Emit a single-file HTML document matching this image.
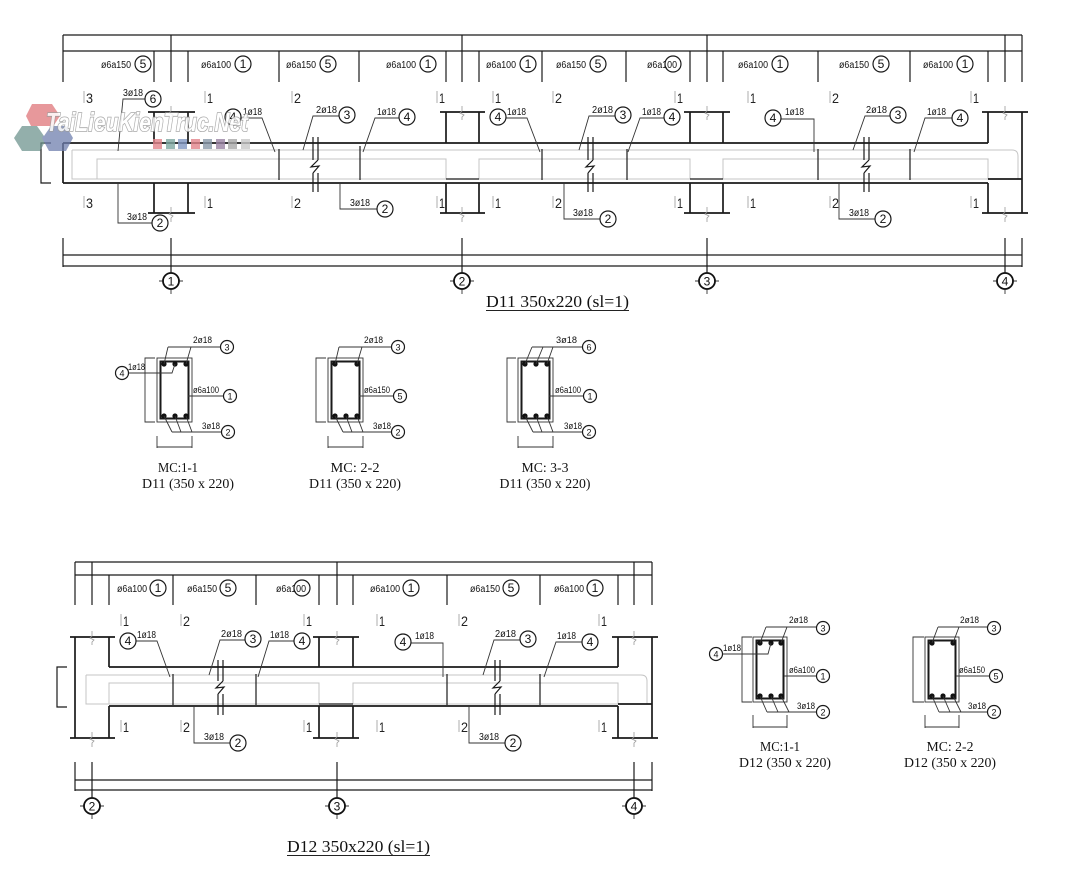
<!DOCTYPE html>
<html><head><meta charset="utf-8"><style>
html,body{margin:0;padding:0;background:#fff;}
svg{display:block;}
</style></head><body>
<svg width="1080" height="872" viewBox="0 0 1080 872" xmlns="http://www.w3.org/2000/svg">
<style>
.l{stroke:#1a1a1a;stroke-width:1.2;fill:none}
.b{stroke:#1a1a1a;stroke-width:1.7;fill:none}
.t{stroke:#333;stroke-width:0.9;fill:none}
.g{stroke:#c4c4c4;stroke-width:1;fill:none}
.k{stroke:#999;stroke-width:0.8;fill:none}
.s{font-family:"Liberation Sans",sans-serif;font-size:10px;fill:#111}
.ss{font-family:"Liberation Sans",sans-serif;font-size:9px;fill:#111}
.n{font-family:"Liberation Sans",sans-serif;font-size:12px;fill:#111;text-anchor:middle}
.nn{font-family:"Liberation Sans",sans-serif;font-size:9px;fill:#111;text-anchor:middle}
.c{fill:#fff;stroke:#1a1a1a;stroke-width:1.2}
.m{font-family:"Liberation Sans",sans-serif;font-size:14px;fill:#222}
.ax{fill:#fff;stroke:#111;stroke-width:1.8}
.an{font-family:"Liberation Sans",sans-serif;font-size:12px;fill:#111;text-anchor:middle}
.sf{font-family:"Liberation Serif",serif;fill:#111}
.bar{fill:#111}
</style>

<!-- ===================== D11 BEAM ===================== -->
<!-- top dims -->
<line class="l" x1="63" y1="35" x2="1022" y2="35"/>
<line class="l" x1="63" y1="51" x2="1022" y2="51"/>
<g class="l">
<line x1="63" y1="35" x2="63" y2="82"/><line x1="171" y1="35" x2="171" y2="82"/>
<line x1="462" y1="35" x2="462" y2="82"/><line x1="707" y1="35" x2="707" y2="82"/>
<line x1="1005" y1="35" x2="1005" y2="82"/><line x1="1022" y1="35" x2="1022" y2="82"/>
<line x1="154" y1="51" x2="154" y2="82"/><line x1="188" y1="51" x2="188" y2="82"/>
<line x1="279" y1="51" x2="279" y2="82"/><line x1="359" y1="51" x2="359" y2="82"/>
<line x1="446" y1="51" x2="446" y2="82"/><line x1="479" y1="51" x2="479" y2="82"/>
<line x1="542" y1="51" x2="542" y2="82"/><line x1="626" y1="51" x2="626" y2="82"/>
<line x1="690" y1="51" x2="690" y2="82"/><line x1="723" y1="51" x2="723" y2="82"/>
<line x1="818" y1="51" x2="818" y2="82"/><line x1="910" y1="51" x2="910" y2="82"/>
<line x1="988" y1="51" x2="988" y2="82"/>
</g>
<!-- stirrup labels -->
<g>
<text class="s" x="101" y="68" textLength="30" lengthAdjust="spacingAndGlyphs">ø6a150</text><circle class="c" cx="143" cy="64" r="8"/><text class="n" x="143" y="68">5</text>
<text class="s" x="201" y="68" textLength="30" lengthAdjust="spacingAndGlyphs">ø6a100</text><circle class="c" cx="243" cy="64" r="8"/><text class="n" x="243" y="68">1</text>
<text class="s" x="286" y="68" textLength="30" lengthAdjust="spacingAndGlyphs">ø6a150</text><circle class="c" cx="328" cy="64" r="8"/><text class="n" x="328" y="68">5</text>
<text class="s" x="386" y="68" textLength="30" lengthAdjust="spacingAndGlyphs">ø6a100</text><circle class="c" cx="428" cy="64" r="8"/><text class="n" x="428" y="68">1</text>
<text class="s" x="486" y="68" textLength="30" lengthAdjust="spacingAndGlyphs">ø6a100</text><circle class="c" cx="528" cy="64" r="8"/><text class="n" x="528" y="68">1</text>
<text class="s" x="556" y="68" textLength="30" lengthAdjust="spacingAndGlyphs">ø6a150</text><circle class="c" cx="598" cy="64" r="8"/><text class="n" x="598" y="68">5</text>
<text class="s" x="647" y="68" textLength="30" lengthAdjust="spacingAndGlyphs">ø6a100</text><circle cx="673" cy="64" r="8" fill="none" stroke="#1a1a1a" stroke-width="1.2"/>
<text class="s" x="738" y="68" textLength="30" lengthAdjust="spacingAndGlyphs">ø6a100</text><circle class="c" cx="780" cy="64" r="8"/><text class="n" x="780" y="68">1</text>
<text class="s" x="839" y="68" textLength="30" lengthAdjust="spacingAndGlyphs">ø6a150</text><circle class="c" cx="881" cy="64" r="8"/><text class="n" x="881" y="68">5</text>
<text class="s" x="923" y="68" textLength="30" lengthAdjust="spacingAndGlyphs">ø6a100</text><circle class="c" cx="965" cy="64" r="8"/><text class="n" x="965" y="68">1</text>
</g>
<!-- section markers top & bottom -->
<g>
<line class="k" x1="84" y1="91" x2="84" y2="103"/><text class="m" x="86" y="103" textLength="7" lengthAdjust="spacingAndGlyphs">3</text>
<line class="k" x1="205" y1="91" x2="205" y2="103"/><text class="m" x="207" y="103" textLength="6" lengthAdjust="spacingAndGlyphs">1</text>
<line class="k" x1="292" y1="91" x2="292" y2="103"/><text class="m" x="294" y="103" textLength="7" lengthAdjust="spacingAndGlyphs">2</text>
<line class="k" x1="437" y1="91" x2="437" y2="103"/><text class="m" x="439" y="103" textLength="6" lengthAdjust="spacingAndGlyphs">1</text>
<line class="k" x1="493" y1="91" x2="493" y2="103"/><text class="m" x="495" y="103" textLength="6" lengthAdjust="spacingAndGlyphs">1</text>
<line class="k" x1="553" y1="91" x2="553" y2="103"/><text class="m" x="555" y="103" textLength="7" lengthAdjust="spacingAndGlyphs">2</text>
<line class="k" x1="675" y1="91" x2="675" y2="103"/><text class="m" x="677" y="103" textLength="6" lengthAdjust="spacingAndGlyphs">1</text>
<line class="k" x1="748" y1="91" x2="748" y2="103"/><text class="m" x="750" y="103" textLength="6" lengthAdjust="spacingAndGlyphs">1</text>
<line class="k" x1="830" y1="91" x2="830" y2="103"/><text class="m" x="832" y="103" textLength="7" lengthAdjust="spacingAndGlyphs">2</text>
<line class="k" x1="971" y1="91" x2="971" y2="103"/><text class="m" x="973" y="103" textLength="6" lengthAdjust="spacingAndGlyphs">1</text>

<line class="k" x1="84" y1="196" x2="84" y2="208"/><text class="m" x="86" y="208" textLength="7" lengthAdjust="spacingAndGlyphs">3</text>
<line class="k" x1="205" y1="196" x2="205" y2="208"/><text class="m" x="207" y="208" textLength="6" lengthAdjust="spacingAndGlyphs">1</text>
<line class="k" x1="292" y1="196" x2="292" y2="208"/><text class="m" x="294" y="208" textLength="7" lengthAdjust="spacingAndGlyphs">2</text>
<line class="k" x1="437" y1="196" x2="437" y2="208"/><text class="m" x="439" y="208" textLength="6" lengthAdjust="spacingAndGlyphs">1</text>
<line class="k" x1="493" y1="196" x2="493" y2="208"/><text class="m" x="495" y="208" textLength="6" lengthAdjust="spacingAndGlyphs">1</text>
<line class="k" x1="553" y1="196" x2="553" y2="208"/><text class="m" x="555" y="208" textLength="7" lengthAdjust="spacingAndGlyphs">2</text>
<line class="k" x1="675" y1="196" x2="675" y2="208"/><text class="m" x="677" y="208" textLength="6" lengthAdjust="spacingAndGlyphs">1</text>
<line class="k" x1="748" y1="196" x2="748" y2="208"/><text class="m" x="750" y="208" textLength="6" lengthAdjust="spacingAndGlyphs">1</text>
<line class="k" x1="830" y1="196" x2="830" y2="208"/><text class="m" x="832" y="208" textLength="7" lengthAdjust="spacingAndGlyphs">2</text>
<line class="k" x1="971" y1="196" x2="971" y2="208"/><text class="m" x="973" y="208" textLength="6" lengthAdjust="spacingAndGlyphs">1</text>
</g>

<!-- gray rebar outlines -->
<path class="g" d="M72,150 H1012 Q1018,150 1018,156 V179 M72,150 V179 H1018"/>
<path class="g" d="M97,179 V159 H446 V179 M479,179 V159 H690 V179 M723,179 V159 H988 V179"/>

<!-- beam outline -->
<g class="b">
<line x1="63" y1="143" x2="988" y2="143"/>
<line x1="63" y1="183" x2="988" y2="183"/>
<line x1="63" y1="143" x2="63" y2="183"/>
<!-- column axis 1 -->
<path d="M154,143 V112 M188,143 V112 M148,112 H195 M154,183 V213 M188,183 V213 M148,213 H195"/>
<!-- column axis 2 -->
<path d="M446,143 V112 M479,143 V112 M440,112 H485 M446,183 V213 M479,183 V213 M440,213 H485"/>
<!-- column axis 3 -->
<path d="M690,143 V112 M723,143 V112 M684,112 H730 M690,183 V213 M723,183 V213 M684,213 H730"/>
<!-- right column -->
<path d="M988,143 V112 M982,112 H1028 M1022,112 V213 M988,183 V213 M982,213 H1028 M988,179 H1022"/>
</g>
<path class="l" d="M446,179 H479 M690,179 H723"/>
<!-- column break marks -->
<g class="k">
<path d="M171,106 V111 L169,113 L173,115 L171,117 V120"/>
<path d="M171,207 V212 L169,214 L173,216 L171,218 V222"/>
<path d="M462,106 V111 L460,113 L464,115 L462,117 V120"/>
<path d="M462,207 V212 L460,214 L464,216 L462,218 V222"/>
<path d="M707,106 V111 L705,113 L709,115 L707,117 V120"/>
<path d="M707,207 V212 L705,214 L709,216 L707,218 V222"/>
<path d="M1005,106 V111 L1003,113 L1007,115 L1005,117 V120"/>
<path d="M1005,207 V212 L1003,214 L1007,216 L1005,218 V222"/>
</g>
<!-- rebar cut lines -->
<g class="l">
<line x1="279" y1="149" x2="279" y2="180"/><line x1="360" y1="146" x2="360" y2="180"/>
<line x1="542" y1="149" x2="542" y2="180"/><line x1="627" y1="149" x2="627" y2="180"/>
<line x1="818" y1="149" x2="818" y2="180"/><line x1="910" y1="149" x2="910" y2="180"/>
</g>
<!-- break symbols -->
<g class="l">
<path d="M313,137 V160 M318,137 V160 M313,173 V192 M318,173 V192 M318,160 L311,167 L319,166 L313,173"/>
<path d="M588,137 V160 M593,137 V160 M588,173 V192 M593,173 V192 M593,160 L586,167 L594,166 L588,173"/>
<path d="M864,137 V160 M869,137 V160 M864,173 V192 M869,173 V192 M869,160 L862,167 L870,166 L864,173"/>
</g>
<!-- left bracket -->
<path class="l" d="M51,143 H41 V183 H51"/>

<!-- leaders D11 -->
<g class="t">
<polyline points="118,151 123,99 145,99"/>
<polyline points="241,118 262,118 275,152"/>
<polyline points="339,116 313,116 303,150"/>
<polyline points="118,183 118,223 152,223"/>
<polyline points="340,183 340,209 377,209"/>
<polyline points="399,118 375,118 363,152"/>
<polyline points="506,118 527,118 540,152"/>
<polyline points="615,116 589,116 579,150"/>
<polyline points="664,118 640,118 628,152"/>
<polyline points="564,183 564,219 600,219"/>
<polyline points="781,119 814,119 814,152"/>
<polyline points="890,116 865,116 853,150"/>
<polyline points="952,118 925,118 914,152"/>
<polyline points="839,183 839,219 875,219"/>
</g>
<g>
<text class="s" x="123" y="96" textLength="20" lengthAdjust="spacingAndGlyphs">3ø18</text><circle class="c" cx="153" cy="99" r="8"/><text class="n" x="153" y="103">6</text>
<circle class="c" cx="233" cy="117" r="8"/><text class="n" x="233" y="121">4</text><text class="s" x="243" y="115" textLength="19" lengthAdjust="spacingAndGlyphs">1ø18</text>
<text class="s" x="316" y="113" textLength="21" lengthAdjust="spacingAndGlyphs">2ø18</text><circle class="c" cx="347" cy="115" r="8"/><text class="n" x="347" y="119">3</text>
<text class="s" x="127" y="220" textLength="20" lengthAdjust="spacingAndGlyphs">3ø18</text><circle class="c" cx="160" cy="223" r="8"/><text class="n" x="160" y="227">2</text>
<text class="s" x="350" y="206" textLength="20" lengthAdjust="spacingAndGlyphs">3ø18</text><circle class="c" cx="385" cy="209" r="8"/><text class="n" x="385" y="213">2</text>
<text class="s" x="377" y="115" textLength="19" lengthAdjust="spacingAndGlyphs">1ø18</text><circle class="c" cx="407" cy="117" r="8"/><text class="n" x="407" y="121">4</text>
<circle class="c" cx="498" cy="117" r="8"/><text class="n" x="498" y="121">4</text><text class="s" x="507" y="115" textLength="19" lengthAdjust="spacingAndGlyphs">1ø18</text>
<text class="s" x="592" y="113" textLength="21" lengthAdjust="spacingAndGlyphs">2ø18</text><circle class="c" cx="623" cy="115" r="8"/><text class="n" x="623" y="119">3</text>
<text class="s" x="642" y="115" textLength="19" lengthAdjust="spacingAndGlyphs">1ø18</text><circle class="c" cx="672" cy="117" r="8"/><text class="n" x="672" y="121">4</text>
<text class="s" x="573" y="216" textLength="20" lengthAdjust="spacingAndGlyphs">3ø18</text><circle class="c" cx="608" cy="219" r="8"/><text class="n" x="608" y="223">2</text>
<circle class="c" cx="773" cy="118" r="8"/><text class="n" x="773" y="122">4</text><text class="s" x="785" y="115" textLength="19" lengthAdjust="spacingAndGlyphs">1ø18</text>
<text class="s" x="866" y="113" textLength="21" lengthAdjust="spacingAndGlyphs">2ø18</text><circle class="c" cx="898" cy="115" r="8"/><text class="n" x="898" y="119">3</text>
<text class="s" x="927" y="115" textLength="19" lengthAdjust="spacingAndGlyphs">1ø18</text><circle class="c" cx="960" cy="118" r="8"/><text class="n" x="960" y="122">4</text>
<text class="s" x="849" y="216" textLength="20" lengthAdjust="spacingAndGlyphs">3ø18</text><circle class="c" cx="883" cy="219" r="8"/><text class="n" x="883" y="223">2</text>
</g>

<!-- lower dims D11 -->
<g class="l">
<line x1="63" y1="255" x2="1022" y2="255"/>
<line x1="63" y1="266" x2="1022" y2="266"/>
<line x1="63" y1="238" x2="63" y2="267"/>
<line x1="1022" y1="238" x2="1022" y2="267"/>
<line x1="171" y1="238" x2="171" y2="273"/>
<line x1="462" y1="238" x2="462" y2="273"/>
<line x1="707" y1="238" x2="707" y2="273"/>
<line x1="1005" y1="238" x2="1005" y2="273"/>
</g>
<g class="t">
<path d="M159,281 H163 M179,281 H183 M171,289 V294"/>
<path d="M450,281 H454 M470,281 H474 M462,289 V294"/>
<path d="M695,281 H699 M715,281 H719 M707,289 V294"/>
<path d="M993,281 H997 M1013,281 H1017 M1005,289 V294"/>
</g>
<circle class="ax" cx="171" cy="281" r="8"/><text class="an" x="171" y="285.5">1</text>
<circle class="ax" cx="462" cy="281" r="8"/><text class="an" x="462" y="285.5">2</text>
<circle class="ax" cx="707" cy="281" r="8"/><text class="an" x="707" y="285.5">3</text>
<circle class="ax" cx="1005" cy="281" r="8"/><text class="an" x="1005" y="285.5">4</text>

<text class="sf" x="486" y="307" font-size="17" textLength="143" lengthAdjust="spacingAndGlyphs">D11 350x220 (sl=1)</text>
<line x1="486" y1="310.5" x2="629" y2="310.5" stroke="#222" stroke-width="1"/>

<!-- ===================== D11 SECTIONS ===================== -->
<!-- MC 1-1 -->
<g>
<rect class="t" x="157" y="358" width="35" height="64"/>
<rect x="160.5" y="361.5" width="28" height="57" fill="none" stroke="#1a1a1a" stroke-width="2"/>
<circle class="bar" cx="164" cy="364" r="2.6"/><circle class="bar" cx="175" cy="364" r="2.6"/><circle class="bar" cx="186" cy="364" r="2.6"/>
<circle class="bar" cx="164" cy="416" r="2.6"/><circle class="bar" cx="175" cy="416" r="2.6"/><circle class="bar" cx="186" cy="416" r="2.6"/>
<path class="t" d="M155,358 H145 V422 H155 M157,436 V448 M192,436 V448 M157,447 H192"/>
<path class="t" d="M164,364 L168,347 M186,364 L191,347 M168,347 H220"/>
<text class="ss" x="193" y="343" textLength="19" lengthAdjust="spacingAndGlyphs">2ø18</text>
<circle class="c" cx="227" cy="347" r="6.5"/><text class="nn" x="227" y="350.5">3</text>
<path class="t" d="M128,373 H172 L175,364"/>
<circle class="c" cx="122" cy="373" r="6.5"/><text class="nn" x="122" y="376.5">4</text>
<text class="ss" x="128" y="370" textLength="17" lengthAdjust="spacingAndGlyphs">1ø18</text>
<path class="t" d="M188,396 H223"/>
<text class="ss" x="193" y="393" textLength="26" lengthAdjust="spacingAndGlyphs">ø6a100</text>
<circle class="c" cx="230" cy="396" r="6.5"/><text class="nn" x="230" y="399.5">1</text>
<path class="t" d="M164,416 L172,432 M175,416 L181,432 M186,416 L192,432 M172,432 H222"/>
<text class="ss" x="202" y="429" textLength="18" lengthAdjust="spacingAndGlyphs">3ø18</text>
<circle class="c" cx="228" cy="432" r="6.5"/><text class="nn" x="228" y="435.5">2</text>
<text class="sf" x="178" y="472" font-size="14" text-anchor="middle" textLength="40" lengthAdjust="spacingAndGlyphs">MC:1-1</text>
<text class="sf" x="188" y="488" font-size="14" text-anchor="middle" textLength="92" lengthAdjust="spacingAndGlyphs">D11 (350 x 220)</text>
</g>
<!-- MC 2-2 -->
<g>
<rect class="t" x="328" y="358" width="35" height="64"/>
<rect x="331.5" y="361.5" width="28" height="57" fill="none" stroke="#1a1a1a" stroke-width="2"/>
<circle class="bar" cx="335" cy="364" r="2.6"/><circle class="bar" cx="357" cy="364" r="2.6"/>
<circle class="bar" cx="335" cy="416" r="2.6"/><circle class="bar" cx="346" cy="416" r="2.6"/><circle class="bar" cx="357" cy="416" r="2.6"/>
<path class="t" d="M326,358 H316 V422 H326 M328,436 V448 M363,436 V448 M328,447 H363"/>
<path class="t" d="M335,364 L339,347 M357,364 L362,347 M339,347 H391"/>
<text class="ss" x="364" y="343" textLength="19" lengthAdjust="spacingAndGlyphs">2ø18</text>
<circle class="c" cx="398" cy="347" r="6.5"/><text class="nn" x="398" y="350.5">3</text>
<path class="t" d="M359,396 H393"/>
<text class="ss" x="364" y="393" textLength="26" lengthAdjust="spacingAndGlyphs">ø6a150</text>
<circle class="c" cx="400" cy="396" r="6.5"/><text class="nn" x="400" y="399.5">5</text>
<path class="t" d="M335,416 L343,432 M346,416 L352,432 M357,416 L363,432 M343,432 H392"/>
<text class="ss" x="373" y="429" textLength="18" lengthAdjust="spacingAndGlyphs">3ø18</text>
<circle class="c" cx="398" cy="432" r="6.5"/><text class="nn" x="398" y="435.5">2</text>
<text class="sf" x="355" y="472" font-size="14" text-anchor="middle" textLength="49" lengthAdjust="spacingAndGlyphs">MC: 2-2</text>
<text class="sf" x="355" y="488" font-size="14" text-anchor="middle" textLength="92" lengthAdjust="spacingAndGlyphs">D11 (350 x 220)</text>
</g>
<!-- MC 3-3 -->
<g>
<rect class="t" x="518" y="358" width="35" height="64"/>
<rect x="521.5" y="361.5" width="28" height="57" fill="none" stroke="#1a1a1a" stroke-width="2"/>
<circle class="bar" cx="525" cy="364" r="2.6"/><circle class="bar" cx="536" cy="364" r="2.6"/><circle class="bar" cx="547" cy="364" r="2.6"/>
<circle class="bar" cx="525" cy="416" r="2.6"/><circle class="bar" cx="536" cy="416" r="2.6"/><circle class="bar" cx="547" cy="416" r="2.6"/>
<path class="t" d="M516,358 H507 V422 H516 M518,436 V448 M553,436 V448 M518,447 H553"/>
<path class="t" d="M525,364 L532,347 M536,364 L543,347 M547,364 L553,347 M532,347 H583"/>
<text class="ss" x="556" y="343" textLength="21" lengthAdjust="spacingAndGlyphs">3ø18</text>
<circle class="c" cx="589" cy="347" r="6.5"/><text class="nn" x="589" y="350.5">6</text>
<path class="t" d="M549,396 H584"/>
<text class="ss" x="555" y="393" textLength="26" lengthAdjust="spacingAndGlyphs">ø6a100</text>
<circle class="c" cx="590" cy="396" r="6.5"/><text class="nn" x="590" y="399.5">1</text>
<path class="t" d="M525,416 L533,432 M536,416 L542,432 M547,416 L553,432 M533,432 H583"/>
<text class="ss" x="564" y="429" textLength="18" lengthAdjust="spacingAndGlyphs">3ø18</text>
<circle class="c" cx="589" cy="432" r="6.5"/><text class="nn" x="589" y="435.5">2</text>
<text class="sf" x="545" y="472" font-size="14" text-anchor="middle" textLength="47" lengthAdjust="spacingAndGlyphs">MC: 3-3</text>
<text class="sf" x="545" y="488" font-size="14" text-anchor="middle" textLength="91" lengthAdjust="spacingAndGlyphs">D11 (350 x 220)</text>
</g>

<!-- ===================== D12 BEAM ===================== -->
<g class="l">
<line x1="75" y1="562" x2="652" y2="562"/>
<line x1="75" y1="575" x2="652" y2="575"/>
<line x1="75" y1="562" x2="75" y2="605"/><line x1="92" y1="562" x2="92" y2="605"/>
<line x1="337" y1="562" x2="337" y2="605"/><line x1="634" y1="562" x2="634" y2="605"/>
<line x1="652" y1="562" x2="652" y2="605"/>
<line x1="109" y1="575" x2="109" y2="605"/><line x1="173" y1="575" x2="173" y2="605"/>
<line x1="256" y1="575" x2="256" y2="605"/><line x1="319" y1="575" x2="319" y2="605"/>
<line x1="353" y1="575" x2="353" y2="605"/><line x1="447" y1="575" x2="447" y2="605"/>
<line x1="540" y1="575" x2="540" y2="605"/><line x1="618" y1="575" x2="618" y2="605"/>
</g>
<g>
<text class="s" x="117" y="592" textLength="30" lengthAdjust="spacingAndGlyphs">ø6a100</text><circle class="c" cx="158" cy="588" r="8"/><text class="n" x="158" y="592">1</text>
<text class="s" x="187" y="592" textLength="30" lengthAdjust="spacingAndGlyphs">ø6a150</text><circle class="c" cx="228" cy="588" r="8"/><text class="n" x="228" y="592">5</text>
<text class="s" x="276" y="592" textLength="30" lengthAdjust="spacingAndGlyphs">ø6a100</text><circle cx="302" cy="588" r="8" fill="none" stroke="#1a1a1a" stroke-width="1.2"/>
<text class="s" x="370" y="592" textLength="30" lengthAdjust="spacingAndGlyphs">ø6a100</text><circle class="c" cx="411" cy="588" r="8"/><text class="n" x="411" y="592">1</text>
<text class="s" x="470" y="592" textLength="30" lengthAdjust="spacingAndGlyphs">ø6a150</text><circle class="c" cx="511" cy="588" r="8"/><text class="n" x="511" y="592">5</text>
<text class="s" x="554" y="592" textLength="30" lengthAdjust="spacingAndGlyphs">ø6a100</text><circle class="c" cx="595" cy="588" r="8"/><text class="n" x="595" y="592">1</text>
</g>
<g>
<line class="k" x1="121" y1="614" x2="121" y2="626"/><text class="m" x="123" y="626" textLength="6" lengthAdjust="spacingAndGlyphs">1</text>
<line class="k" x1="181" y1="614" x2="181" y2="626"/><text class="m" x="183" y="626" textLength="7" lengthAdjust="spacingAndGlyphs">2</text>
<line class="k" x1="304" y1="614" x2="304" y2="626"/><text class="m" x="306" y="626" textLength="6" lengthAdjust="spacingAndGlyphs">1</text>
<line class="k" x1="377" y1="614" x2="377" y2="626"/><text class="m" x="379" y="626" textLength="6" lengthAdjust="spacingAndGlyphs">1</text>
<line class="k" x1="459" y1="614" x2="459" y2="626"/><text class="m" x="461" y="626" textLength="7" lengthAdjust="spacingAndGlyphs">2</text>
<line class="k" x1="599" y1="614" x2="599" y2="626"/><text class="m" x="601" y="626" textLength="6" lengthAdjust="spacingAndGlyphs">1</text>

<line class="k" x1="121" y1="720" x2="121" y2="732"/><text class="m" x="123" y="732" textLength="6" lengthAdjust="spacingAndGlyphs">1</text>
<line class="k" x1="181" y1="720" x2="181" y2="732"/><text class="m" x="183" y="732" textLength="7" lengthAdjust="spacingAndGlyphs">2</text>
<line class="k" x1="304" y1="720" x2="304" y2="732"/><text class="m" x="306" y="732" textLength="6" lengthAdjust="spacingAndGlyphs">1</text>
<line class="k" x1="377" y1="720" x2="377" y2="732"/><text class="m" x="379" y="732" textLength="6" lengthAdjust="spacingAndGlyphs">1</text>
<line class="k" x1="459" y1="720" x2="459" y2="732"/><text class="m" x="461" y="732" textLength="7" lengthAdjust="spacingAndGlyphs">2</text>
<line class="k" x1="599" y1="720" x2="599" y2="732"/><text class="m" x="601" y="732" textLength="6" lengthAdjust="spacingAndGlyphs">1</text>
</g>

<path class="g" d="M86,675 H641 Q647,675 647,681 V704 M86,675 V704 H647"/>
<path class="g" d="M109,704 V683 H319 V704 M353,704 V683 H618 V704"/>

<g class="b">
<line x1="109" y1="667" x2="618" y2="667"/>
<line x1="109" y1="706" x2="618" y2="706"/>
<path d="M70,637 H115 M75,637 V738 M109,637 V667 M109,706 V738 M70,738 H115"/>
<path d="M319,667 V637 M353,667 V637 M313,637 H359 M319,706 V738 M353,706 V738 M313,738 H359"/>
<path d="M618,667 V637 M612,637 H658 M652,637 V738 M618,706 V738 M612,738 H658 M618,704 H652"/>
</g>
<path class="l" d="M319,704 H353"/>
<g class="k">
<path d="M92,631 V636 L90,638 L94,640 L92,642 V645"/>
<path d="M92,732 V737 L90,739 L94,741 L92,743 V747"/>
<path d="M337,631 V636 L335,638 L339,640 L337,642 V645"/>
<path d="M337,732 V737 L335,739 L339,741 L337,743 V747"/>
<path d="M634,631 V636 L632,638 L636,640 L634,642 V645"/>
<path d="M634,732 V737 L632,739 L636,741 L634,743 V747"/>
</g>
<g class="l">
<line x1="173" y1="674" x2="173" y2="705"/><line x1="256" y1="674" x2="256" y2="705"/>
<line x1="447" y1="674" x2="447" y2="705"/><line x1="540" y1="674" x2="540" y2="705"/>
</g>
<g class="l">
<path d="M218,660 V681 M223,660 V681 M218,694 V715 M223,694 V715 M223,681 L216,688 L224,687 L218,694"/>
<path d="M495,660 V681 M500,660 V681 M495,694 V715 M500,694 V715 M500,681 L493,688 L501,687 L495,694"/>
</g>
<path class="l" d="M67,667 H57 V707 H67"/>

<g class="t">
<polyline points="136,641 157,641 170,677"/>
<polyline points="245,640 220,640 209,675"/>
<polyline points="294,641 269,641 258,677"/>
<polyline points="194,706 194,743 230,743"/>
<polyline points="411,643 443,643 443,677"/>
<polyline points="520,640 494,640 483,675"/>
<polyline points="582,642 556,642 544,677"/>
<polyline points="469,706 469,743 505,743"/>
</g>
<g>
<circle class="c" cx="128" cy="641" r="8"/><text class="n" x="128" y="645">4</text><text class="s" x="137" y="638" textLength="19" lengthAdjust="spacingAndGlyphs">1ø18</text>
<text class="s" x="221" y="637" textLength="21" lengthAdjust="spacingAndGlyphs">2ø18</text><circle class="c" cx="253" cy="639" r="8"/><text class="n" x="253" y="643">3</text>
<text class="s" x="270" y="638" textLength="19" lengthAdjust="spacingAndGlyphs">1ø18</text><circle class="c" cx="302" cy="641" r="8"/><text class="n" x="302" y="645">4</text>
<text class="s" x="204" y="740" textLength="20" lengthAdjust="spacingAndGlyphs">3ø18</text><circle class="c" cx="238" cy="743" r="8"/><text class="n" x="238" y="747">2</text>
<circle class="c" cx="403" cy="642" r="8"/><text class="n" x="403" y="646">4</text><text class="s" x="415" y="639" textLength="19" lengthAdjust="spacingAndGlyphs">1ø18</text>
<text class="s" x="495" y="637" textLength="21" lengthAdjust="spacingAndGlyphs">2ø18</text><circle class="c" cx="528" cy="639" r="8"/><text class="n" x="528" y="643">3</text>
<text class="s" x="557" y="639" textLength="19" lengthAdjust="spacingAndGlyphs">1ø18</text><circle class="c" cx="590" cy="642" r="8"/><text class="n" x="590" y="646">4</text>
<text class="s" x="479" y="740" textLength="20" lengthAdjust="spacingAndGlyphs">3ø18</text><circle class="c" cx="513" cy="743" r="8"/><text class="n" x="513" y="747">2</text>
</g>

<g class="l">
<line x1="75" y1="780" x2="652" y2="780"/>
<line x1="75" y1="790" x2="652" y2="790"/>
<line x1="75" y1="762" x2="75" y2="791"/><line x1="652" y1="762" x2="652" y2="791"/>
<line x1="92" y1="762" x2="92" y2="798"/><line x1="337" y1="762" x2="337" y2="798"/>
<line x1="634" y1="762" x2="634" y2="798"/>
</g>
<g class="t">
<path d="M80,806 H84 M100,806 H104 M92,814 V819"/>
<path d="M325,806 H329 M345,806 H349 M337,814 V819"/>
<path d="M622,806 H626 M642,806 H646 M634,814 V819"/>
</g>
<circle class="ax" cx="92" cy="806" r="8"/><text class="an" x="92" y="810.5">2</text>
<circle class="ax" cx="337" cy="806" r="8"/><text class="an" x="337" y="810.5">3</text>
<circle class="ax" cx="634" cy="806" r="8"/><text class="an" x="634" y="810.5">4</text>

<text class="sf" x="287" y="852" font-size="17" textLength="143" lengthAdjust="spacingAndGlyphs">D12 350x220 (sl=1)</text>
<line x1="287" y1="855.5" x2="430" y2="855.5" stroke="#222" stroke-width="1"/>

<!-- ===================== D12 SECTIONS ===================== -->
<g>
<rect class="t" x="753" y="637" width="34" height="65"/>
<rect x="756.5" y="640.5" width="27" height="58" fill="none" stroke="#1a1a1a" stroke-width="2"/>
<circle class="bar" cx="760" cy="643" r="2.6"/><circle class="bar" cx="771" cy="643" r="2.6"/><circle class="bar" cx="781" cy="643" r="2.6"/>
<circle class="bar" cx="760" cy="696" r="2.6"/><circle class="bar" cx="771" cy="696" r="2.6"/><circle class="bar" cx="781" cy="696" r="2.6"/>
<path class="t" d="M752,637 H742 V702 H752 M753,715 V728 M787,715 V728 M753,727 H787"/>
<path class="t" d="M760,643 L766,627 M781,643 L787,627 M766,627 H816"/>
<text class="ss" x="789" y="623" textLength="19" lengthAdjust="spacingAndGlyphs">2ø18</text>
<circle class="c" cx="823" cy="628" r="6.5"/><text class="nn" x="823" y="631.5">3</text>
<path class="t" d="M722,654 H768 L771,643"/>
<circle class="c" cx="716" cy="654" r="6.5"/><text class="nn" x="716" y="657.5">4</text>
<text class="ss" x="723" y="651" textLength="18" lengthAdjust="spacingAndGlyphs">1ø18</text>
<path class="t" d="M784,676 H816"/>
<text class="ss" x="789" y="673" textLength="26" lengthAdjust="spacingAndGlyphs">ø6a100</text>
<circle class="c" cx="823" cy="676" r="6.5"/><text class="nn" x="823" y="679.5">1</text>
<path class="t" d="M760,696 L767,712 M771,696 L778,712 M781,696 L789,712 M767,712 H816"/>
<text class="ss" x="797" y="709" textLength="18" lengthAdjust="spacingAndGlyphs">3ø18</text>
<circle class="c" cx="823" cy="712" r="6.5"/><text class="nn" x="823" y="715.5">2</text>
<text class="sf" x="780" y="751" font-size="14" text-anchor="middle" textLength="40" lengthAdjust="spacingAndGlyphs">MC:1-1</text>
<text class="sf" x="785" y="767" font-size="14" text-anchor="middle" textLength="92" lengthAdjust="spacingAndGlyphs">D12 (350 x 220)</text>
</g>
<g>
<rect class="t" x="925" y="637" width="34" height="65"/>
<rect x="928.5" y="640.5" width="27" height="58" fill="none" stroke="#1a1a1a" stroke-width="2"/>
<circle class="bar" cx="932" cy="643" r="2.6"/><circle class="bar" cx="953" cy="643" r="2.6"/>
<circle class="bar" cx="932" cy="696" r="2.6"/><circle class="bar" cx="943" cy="696" r="2.6"/><circle class="bar" cx="953" cy="696" r="2.6"/>
<path class="t" d="M924,637 H913 V702 H924 M925,715 V728 M959,715 V728 M925,727 H959"/>
<path class="t" d="M932,643 L938,627 M953,643 L959,627 M938,627 H987"/>
<text class="ss" x="960" y="623" textLength="19" lengthAdjust="spacingAndGlyphs">2ø18</text>
<circle class="c" cx="994" cy="628" r="6.5"/><text class="nn" x="994" y="631.5">3</text>
<path class="t" d="M956,676 H989"/>
<text class="ss" x="959" y="673" textLength="26" lengthAdjust="spacingAndGlyphs">ø6a150</text>
<circle class="c" cx="996" cy="676" r="6.5"/><text class="nn" x="996" y="679.5">5</text>
<path class="t" d="M932,696 L939,712 M943,696 L950,712 M953,696 L961,712 M939,712 H987"/>
<text class="ss" x="968" y="709" textLength="18" lengthAdjust="spacingAndGlyphs">3ø18</text>
<circle class="c" cx="994" cy="712" r="6.5"/><text class="nn" x="994" y="715.5">2</text>
<text class="sf" x="950" y="751" font-size="14" text-anchor="middle" textLength="47" lengthAdjust="spacingAndGlyphs">MC: 2-2</text>
<text class="sf" x="950" y="767" font-size="14" text-anchor="middle" textLength="92" lengthAdjust="spacingAndGlyphs">D12 (350 x 220)</text>
</g>

<!-- ===================== WATERMARK ===================== -->
<g opacity="0.75">
<polygon points="32,104 52,104 60,116 52,128 32,128 26,116" fill="#e0767a"/>
<polygon points="22,126 40,126 47,138 40,151 22,151 14,138" fill="#6f958f"/>
<polygon points="49,126 66,126 73,138 66,151 49,151 42,138" fill="#6f7fae"/>
<polygon points="37,126 51,126 44,136" fill="#ffffff"/>
</g>
<text x="46" y="131" font-family="Liberation Sans, sans-serif" font-size="26" font-weight="bold" font-style="italic" fill="#ffffff" stroke="#9a9a9a" stroke-width="1.6" paint-order="stroke" opacity="0.85" textLength="202" lengthAdjust="spacingAndGlyphs">TaiLieuKienTruc.Net</text>
<g opacity="0.8">
<rect x="153" y="139" width="9" height="10" fill="#e3848b"/>
<rect x="166" y="139" width="9" height="10" fill="#7fa8a2"/>
<rect x="178" y="139" width="9" height="10" fill="#8198c2"/>
<rect x="191" y="139" width="9" height="10" fill="#e3848b"/>
<rect x="203" y="139" width="9" height="10" fill="#8a9bab"/>
<rect x="216" y="139" width="9" height="10" fill="#9a84a4"/>
<rect x="228" y="139" width="9" height="10" fill="#a8a8a8"/>
<rect x="241" y="139" width="9" height="10" fill="#c9c9c9"/>
</g>
</svg>
</body></html>
